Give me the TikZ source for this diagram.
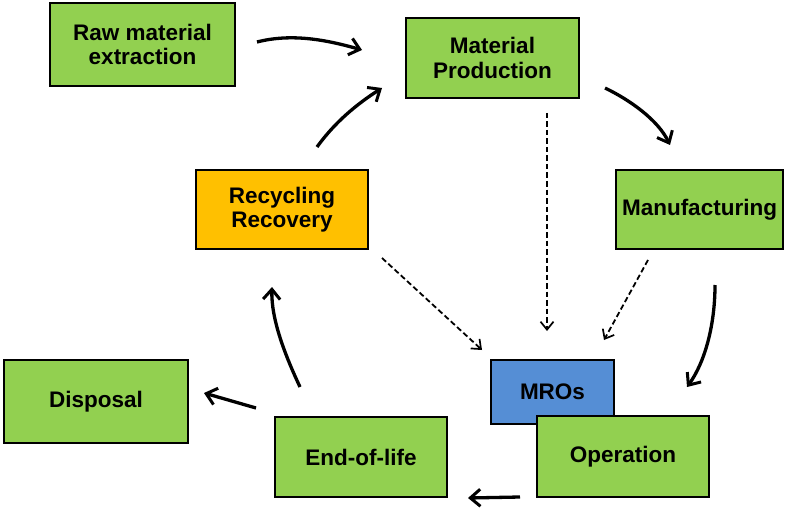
\documentclass[tikz,border=0pt]{standalone}
\usepackage{fontspec}
\setmainfont{Liberation Sans}
\usetikzlibrary{arrows.meta}
\definecolor{boxgreen}{HTML}{92D050}
\definecolor{boxorange}{HTML}{FFC000}
\definecolor{boxblue}{HTML}{558ED5}
\begin{document}
\begin{tikzpicture}[x=1pt,y=-1pt,
  stage/.style={draw=black, line width=2.2pt, fill=boxgreen, align=center,
    font=\fontsize{22.5}{24.5}\selectfont\bfseries, inner sep=0pt},
  flow/.style={line width=3.3pt, -{Straight Barb[length=10pt,width=17pt,line width=3pt]}},
  link/.style={line width=1.8pt, dash pattern=on 5.5pt off 3pt,
    -{Straight Barb[length=8pt,width=13pt,line width=1.7pt]}}]
\useasboundingbox (0,0) rectangle (790,508);

% stages of the life cycle
\node[stage, minimum width=185pt, minimum height=83pt] (raw) at (142.5,44.5) {Raw material\\extraction};
\node[stage, minimum width=173pt, minimum height=80pt] (prod) at (492.5,58) {Material\\Production};
\node[stage, minimum width=167pt, minimum height=79pt] (manu) at (699.5,209.5) {Manufacturing};
\node[stage, fill=boxorange, minimum width=172pt, minimum height=79pt] (recy) at (282,209.5) {Recycling\\Recovery};
\node[stage, fill=boxblue, minimum width=123pt, minimum height=64pt] (mro) at (552.5,392) {MROs};
\node[stage, minimum width=172pt, minimum height=81pt] (oper) at (623,456.5) {Operation};
\node[stage, minimum width=172pt, minimum height=80pt] (eol) at (361,457) {End-of-life};
\node[stage, minimum width=184pt, minimum height=83pt] (disp) at (96,401.5) {Disposal};

% free ends of the arrows
\coordinate (a1s) at (257,42);  \coordinate (a1e) at (362,50);
\coordinate (a2s) at (317,147); \coordinate (a2e) at (382,88);
\coordinate (a3s) at (605,88);  \coordinate (a3e) at (670,145);
\coordinate (a4s) at (715,285); \coordinate (a4e) at (687,387);
\coordinate (a5s) at (520,497); \coordinate (a5e) at (468,498);
\coordinate (a6s) at (300,387); \coordinate (a6e) at (272,287);
\coordinate (a7s) at (256,408); \coordinate (a7e) at (204,393);
\coordinate (d1s) at (547,113); \coordinate (d1e) at (547,331);
\coordinate (d2s) at (648,260); \coordinate (d2e) at (604,340);
\coordinate (d3s) at (382,258); \coordinate (d3e) at (482,350);

% main cycle
\draw[flow] (a1s) .. controls +(35,-9) and +(-35,-10) .. (a1e);
\draw[flow] (a2s) .. controls +(18,-25) and +(-25,16) .. (a2e);
\draw[flow] (a3s) .. controls +(25,12) and +(-12,-25) .. (a3e);
\draw[flow] (a4s) .. controls +(0,40) and +(18,-25) .. (a4e);
\draw[flow] (a5s) -- (a5e);
\draw[flow] (a6s) .. controls +(-15,-32) and +(-1,32) .. (a6e);
\draw[flow] (a7s) -- (a7e);

% maintenance links
\draw[link] (d1s) -- (d1e);
\draw[link] (d2s) -- (d2e);
\draw[link] (d3s) -- (d3e);
\end{tikzpicture}
\end{document}
